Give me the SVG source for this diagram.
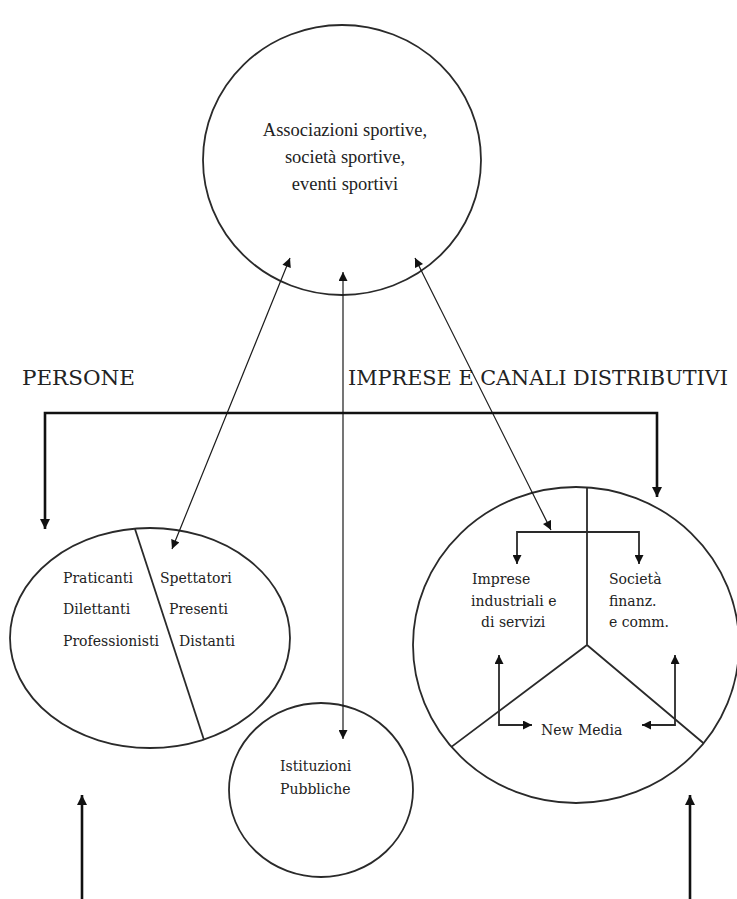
<svg xmlns="http://www.w3.org/2000/svg" width="737" height="899" viewBox="0 0 737 899">
<style>
.shape{fill:none;stroke:#2a2a2a;stroke-width:1.8}
.thin{fill:none;stroke:#1a1a1a;stroke-width:1.2}
.thick{fill:none;stroke:#111;stroke-width:2.6}
.t{font-family:"DejaVu Serif","Liberation Serif",serif;font-size:14px;fill:#222}
.top{font-family:"Liberation Serif","DejaVu Serif",serif;font-size:18.5px;fill:#222;text-anchor:middle}
.cap{font-family:"DejaVu Serif","Liberation Serif",serif;font-size:20px;fill:#222}
</style>
<defs>
<marker id="ah" viewBox="0 0 10 10" refX="10" refY="5" markerWidth="10" markerHeight="9" markerUnits="userSpaceOnUse" orient="auto-start-reverse"><path d="M0,0 L10,5 L0,10 z" fill="#111"/></marker>
<marker id="ahb" viewBox="0 0 10 10" refX="10" refY="5" markerWidth="12" markerHeight="10" markerUnits="userSpaceOnUse" orient="auto-start-reverse"><path d="M0,0 L10,5 L0,10 z" fill="#111"/></marker>
</defs>
<rect width="737" height="899" fill="#fff"/>

<g id="associazioni">
<ellipse class="shape" cx="342" cy="160" rx="139" ry="135"/>
<text class="top" x="345" y="136">Associazioni sportive,</text>
<text class="top" x="345" y="163">società sportive,</text>
<text class="top" x="345" y="190">eventi sportivi</text>
</g>

<g id="labels">
<text class="cap" x="22" y="385" textLength="113" lengthAdjust="spacingAndGlyphs">PERSONE</text>
<text class="cap" x="348" y="385" textLength="380" lengthAdjust="spacingAndGlyphs">IMPRESE E CANALI DISTRIBUTIVI</text>
</g>

<g id="persone">
<ellipse class="shape" cx="150" cy="638" rx="140" ry="110"/>
<line class="shape" x1="135" y1="529" x2="204" y2="740"/>
<text class="t" x="63" y="583">Praticanti</text>
<text class="t" x="63" y="614">Dilettanti</text>
<text class="t" x="63" y="646">Professionisti</text>
<text class="t" x="160" y="583">Spettatori</text>
<text class="t" x="169" y="614">Presenti</text>
<text class="t" x="179" y="646">Distanti</text>
</g>

<g id="istituzioni">
<ellipse class="shape" cx="321" cy="790" rx="92" ry="87"/>
<text class="t" x="280" y="771">Istituzioni</text>
<text class="t" x="280" y="794">Pubbliche</text>
</g>

<g id="imprese">
<ellipse class="shape" cx="576" cy="645" rx="163" ry="158"/>
<path class="shape" d="M587,487.4 V645 L451.4,746.9 M587,645 L703.6,743.3"/>
<text class="t" x="472" y="584">Imprese</text>
<text class="t" x="471" y="606">industriali e</text>
<text class="t" x="481" y="627">di servizi</text>
<text class="t" x="609" y="584">Società</text>
<text class="t" x="609" y="606">finanz.</text>
<text class="t" x="609" y="627">e comm.</text>
<text class="t" x="541" y="735">New Media</text>
</g>

<g id="connectors">
<line class="thin" x1="290" y1="258" x2="172" y2="549" marker-start="url(#ah)" marker-end="url(#ah)"/>
<line class="thin" x1="343" y1="272" x2="343" y2="739" marker-start="url(#ah)" marker-end="url(#ah)"/>
<line class="thin" x1="415" y1="258" x2="551" y2="530" marker-start="url(#ah)" marker-end="url(#ah)"/>
<path class="thick" d="M45,529 V413 H657 V497" marker-start="url(#ahb)" marker-end="url(#ahb)"/>
<path class="shape" d="M517,564 V532 H639 V564" marker-start="url(#ah)" marker-end="url(#ah)"/>
<path class="shape" d="M499,655 V725 H532" marker-start="url(#ah)" marker-end="url(#ah)"/>
<path class="shape" d="M675,655 V725 H642" marker-start="url(#ah)" marker-end="url(#ah)"/>
<line class="thick" x1="82" y1="899" x2="82" y2="795" marker-end="url(#ahb)"/>
<line class="thick" x1="690" y1="899" x2="690" y2="795" marker-end="url(#ahb)"/>
</g>
</svg>
